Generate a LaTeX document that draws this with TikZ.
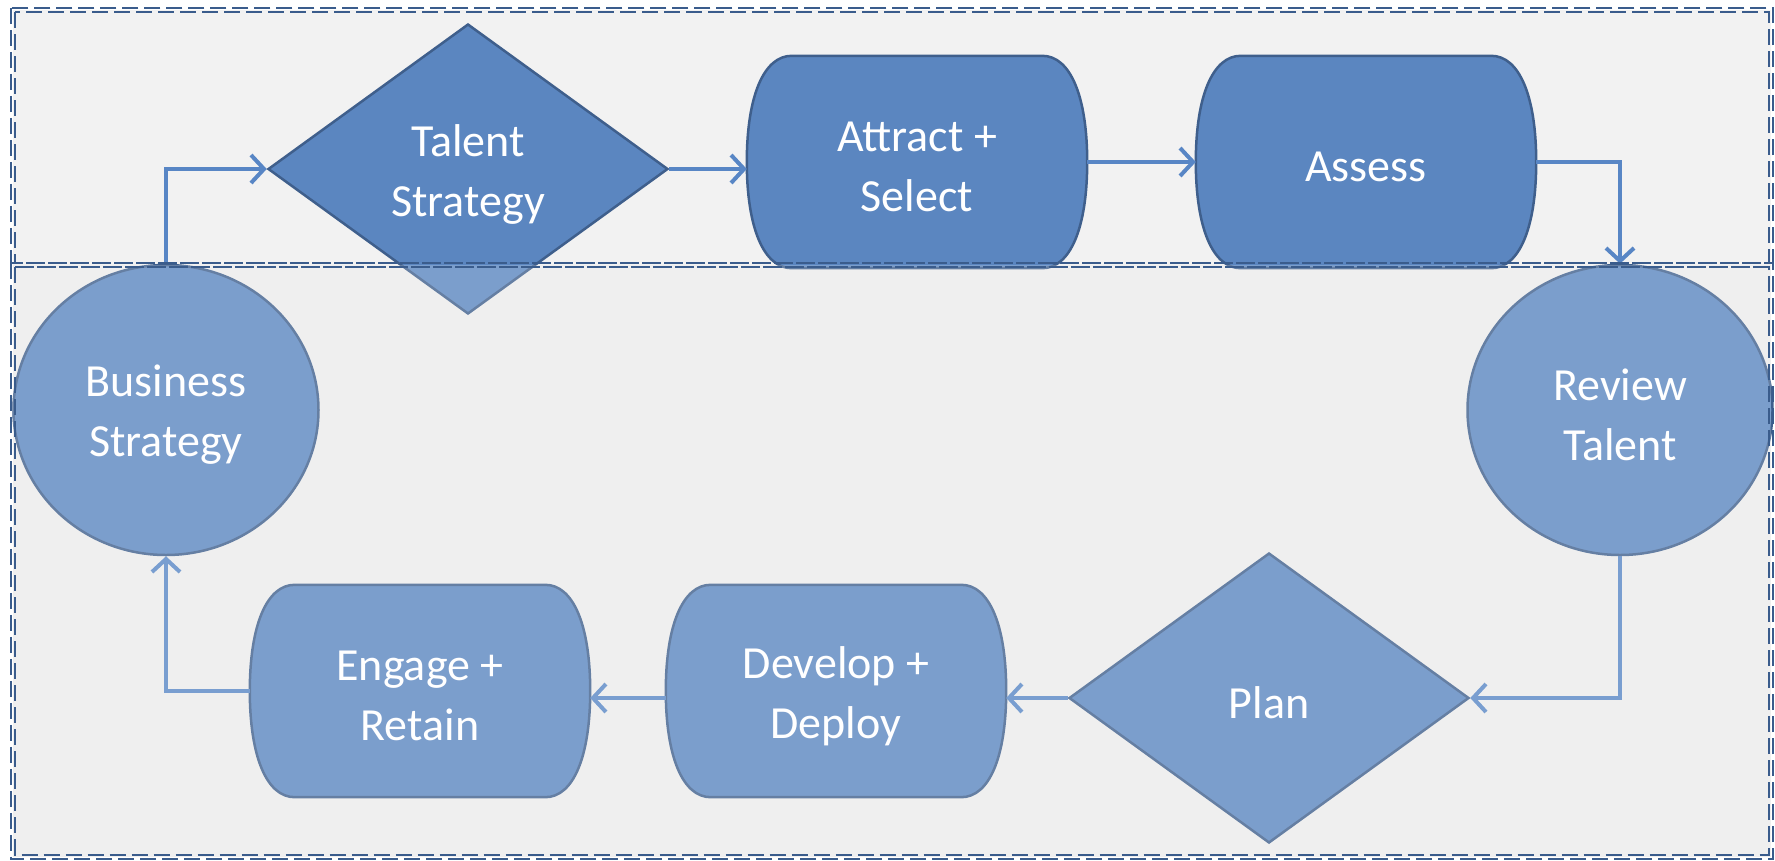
\documentclass[tikz,border=0pt]{standalone}
\usepackage{fontspec}
\setmainfont{Carlito}
\usetikzlibrary{shapes.geometric,arrows.meta}

\definecolor{boxfill}{RGB}{91,134,192}
\definecolor{boxline}{RGB}{63,95,140}
\definecolor{linkcol}{RGB}{88,134,197}
\definecolor{framecol}{RGB}{58,92,140}
\definecolor{panelbg}{RGB}{242,242,242}
\definecolor{panelbgtwo}{RGB}{236,236,236}

\tikzset{
  shapebase/.style={fill=boxfill, draw=boxline, line width=2.5pt},
  label/.style={text=white, font=\fontsize{46}{60}\selectfont, align=center, inner sep=0pt, yshift=-5pt},
  circ/.style={shapebase, ellipse, inner sep=0pt, minimum width=305pt, minimum height=290pt},
  decide/.style={shapebase, diamond, inner sep=0pt, minimum width=400pt, minimum height=290pt},
  termnode/.style={rectangle, inner sep=0pt, minimum width=340pt, minimum height=212pt},
  link/.style={draw=linkcol, line width=4pt, -{Straight Barb[length=13pt, width=28pt, line width=4pt]}},
  frame/.style={draw=framecol, line width=2.1pt, dash pattern=on 16pt off 6pt},
}

% terminator outline (straight top and bottom, rounded bulging ends) around a node
\newcommand{\termshape}[1]{%
  \draw[shapebase]
    ([xshift=45pt]#1.north west) -- ([xshift=-45pt]#1.north east)
    .. controls ([xshift=-17pt]#1.north east) and ([yshift=66pt]#1.east) .. (#1.east)
    .. controls ([yshift=-66pt]#1.east) and ([xshift=-17pt]#1.south east) .. ([xshift=-45pt]#1.south east)
    -- ([xshift=45pt]#1.south west)
    .. controls ([xshift=17pt]#1.south west) and ([yshift=-66pt]#1.west) .. (#1.west)
    .. controls ([yshift=66pt]#1.west) and ([xshift=17pt]#1.north west) .. ([xshift=45pt]#1.north west)
    -- cycle;}

% double dashed panel border
\newcommand{\panelborder}[4]{%
  \draw[frame] (#1-2.2,#2-2.2) rectangle (#3+2.2,#4+2.2);
  \draw[frame] (#1+2.2,#2+2.2) rectangle (#3-2.2,#4-2.2);}

\begin{document}
\begin{tikzpicture}[x=1pt, y=-1pt]
  \useasboundingbox (0,0) rectangle (1775,860);
  \fill[white] (0,0) rectangle (1775,860);

  % panels
  \fill[panelbg] (13,10) rectangle (1771,265);
  \fill[panelbgtwo] (13,265) rectangle (1771,857);

  % shapes
  \node[termnode] (as)  at (917,162)  {};
  \node[termnode] (asm) at (1366,162) {};
  \node[termnode] (dd)  at (836,691)  {};
  \node[termnode] (er)  at (420,691)  {};
  \termshape{as}
  \termshape{asm}
  \termshape{dd}
  \termshape{er}

  \node[circ]   (bs) at (166,410)  {};
  \node[circ]   (rt) at (1620,410) {};
  \node[decide] (ts) at (468,169)  {};
  \node[decide] (pl) at (1269,698) {};

  % captions
  \node[label] at (as)  {Attract +\\Select};
  \node[label] at (asm) {Assess};
  \node[label] at (dd)  {Develop +\\Deploy};
  \node[label] at (er)  {Engage +\\Retain};
  \node[label] at (bs)  {Business\\Strategy};
  \node[label] at (rt)  {Review\\Talent};
  \node[label] at (ts)  {Talent\\Strategy};
  \node[label] at (pl)  {Plan};

  % connectors
  \draw[link] (bs.north) |- (ts.west);
  \draw[link] (ts.east) -- (ts.east -| as.west);
  \draw[link] (as.east) -- (asm.west);
  \draw[link] (asm.east) -| (rt.north);
  \draw[link] (rt.south) |- (pl.east);
  \draw[link] (pl.west) -- (pl.west -| dd.east);
  \draw[link] (dd.west |- pl.west) -- (er.east |- pl.west);
  \draw[link] (er.west) -| (bs.south);

  % lower panel veil
  \fill[white, opacity=0.2] (13,265) rectangle (1771,857);

  % dashed panel borders
  \panelborder{13}{10}{1771}{265}
  \panelborder{13}{265}{1771}{857}
\end{tikzpicture}
\end{document}
